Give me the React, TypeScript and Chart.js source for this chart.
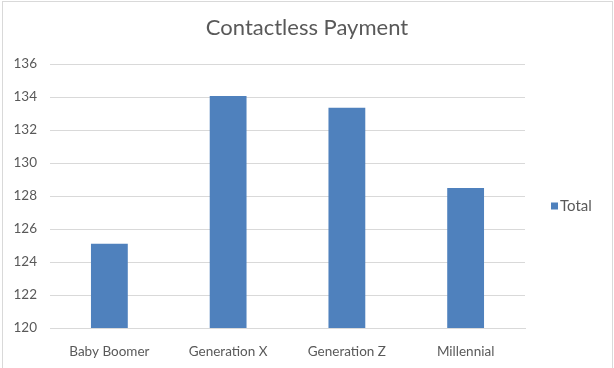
import React, { useEffect, useRef } from "react";
import { Chart, registerables } from "chart.js";

Chart.register(...registerables);

const categories = ["Baby Boomer", "Generation X", "Generation Z", "Millennial"];
const totals = [125.1, 134.06, 133.35, 128.48];
const seriesName = "Total";
const chartTitle = "Contactless Payment";
const yMin = 120;
const yMax = 136;
const yStep = 2;

const FONT = "Lato, 'Open Sans', sans-serif";

const decorations = {
  id: "decorations",
  afterDraw(chart: any) {
    const { ctx, chartArea } = chart;
    const ds = chart.data.datasets[0];
    ctx.save();
    // title centred on the whole canvas
    ctx.fillStyle = "#595959";
    ctx.font = `22px ${FONT}`;
    ctx.textAlign = "center";
    ctx.textBaseline = "middle";
    ctx.fillText(chartTitle, chart.width / 2, 28);
    // legend on the right
    const cy = (chartArea.top + chartArea.bottom) / 2 + 10;
    const bx = chartArea.right + 26;
    ctx.fillStyle = ds.backgroundColor;
    ctx.fillRect(bx, cy - 3.5, 7, 7);
    ctx.fillStyle = "#595959";
    ctx.font = `15px ${FONT}`;
    ctx.textAlign = "left";
    ctx.fillText(ds.label, bx + 9, cy + 0.5);
    ctx.restore();
  },
};

export default function App() {
  const ref = useRef<HTMLCanvasElement | null>(null);

  useEffect(() => {
    document.body.style.margin = "0";
    if (!ref.current) return;
    const chart = new Chart(ref.current, {
      type: "bar",
      data: {
        labels: categories,
        datasets: [
          {
            label: seriesName,
            data: totals,
            backgroundColor: "#4f81bd",
            borderWidth: 0,
            barPercentage: 0.31,
            categoryPercentage: 1,
          },
        ],
      },
      plugins: [decorations],
      options: {
        animation: false,
        responsive: false,
        maintainAspectRatio: false,
        layout: { padding: { left: 12, right: 89, top: 64, bottom: 0 } },
        plugins: {
          title: { display: false },
          legend: { display: false },
          tooltip: { enabled: false },
        },
        scales: {
          x: {
            grid: { display: false },
            border: { display: true, color: "#d9d9d9" },
            ticks: {
              color: "#595959",
              font: { family: FONT, size: 13.5 },
              padding: 8,
            },
            afterFit: (s: any) => {
              s.height = 40;
            },
          },
          y: {
            min: yMin,
            max: yMax,
            ticks: {
              stepSize: yStep,
              color: "#595959",
              font: { family: FONT, size: 13.5 },
              padding: 13,
            },
            grid: { color: "#d9d9d9", drawTicks: false },
            border: { display: false },
            afterFit: (s: any) => {
              s.width = 38;
            },
          },
        },
      },
    });
    return () => chart.destroy();
  }, []);

  return (
    <div style={{ position: "relative", width: 614, height: 368, overflow: "hidden", background: "#fff" }}>
      <canvas ref={ref} width={614} height={368} style={{ display: "block" }} />
      <div
        style={{
          position: "absolute",
          left: 2,
          top: 1,
          width: 609,
          height: 400,
          border: "1px solid #d9d9d9",
          pointerEvents: "none",
        }}
      />
    </div>
  );
}
